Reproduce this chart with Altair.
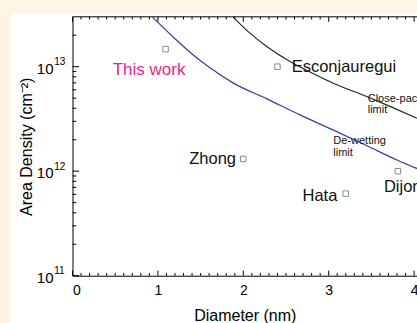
import altair as alt
import pandas as pd

# ---------------- data ----------------
sample_names = ["This work", "Esconjauregui", "Zhong", "Hata", "Dijon"]
sample_diam = [1.09, 2.40, 2.00, 3.20, 3.81]
sample_dens = [1.47e13, 1.0e13, 1.31e12, 6.1e11, 1.0e12]

# label anchor positions (data units)
this_work_pos = (0.471, 8.35e12)
escon_pos = (2.566, 8.9e12)
zhong_pos = (1.915, 1.16e12)
hata_pos = (3.101, 5.16e11)
dijon_pos = (3.647, 6.3e11)
closepack_label_pos = (3.457, 4.6e12)
dewet_label_pos = (3.054, 1.84e12)

# De-wetting limit curve (blue)
dewet_d = [0.934, 1.177, 1.411, 1.610, 1.879, 2.277, 2.664, 3.050, 3.448, 3.800, 4.034]
dewet_n = [3.0e13, 1.93e13, 1.30e13, 9.75e12, 7.0e12, 4.92e12, 3.46e12, 2.48e12, 1.75e12, 1.28e12, 1.06e12]

# Close-packed limit curve (black)
close_d = [1.879, 2.078, 2.274, 2.547, 2.782, 3.054, 3.445, 3.718, 4.034]
close_n = [3.0e13, 2.09e13, 1.56e13, 1.12e13, 8.9e12, 6.95e12, 5.18e12, 4.17e12, 3.21e12]

# axis ticks and tick labels
x_major = [0, 1, 2, 3, 4]
x_minor = [round(i / 10, 1) for i in range(1, 41) if i % 10 != 0]
y_major = [1e11, 1e12, 1e13]
y_label_base = ["10", "10", "10"]
y_label_exp = ["11", "12", "13"]
y_minor = [m * 10 ** e for e in (11, 12) for m in range(2, 10)] + [2e13]

# ---------------- layout ----------------
W, H = 344.5, 258.9
FONT = "Liberation Sans"

xs = alt.Scale(domain=[0, 4.034], nice=False, zero=False)
ys = alt.Scale(type="log", domain=[1e11, 3e13], nice=False)

common_axis = dict(ticks=False, grid=False, zindex=2, domainColor="black", domainWidth=1,
                   labelFont=FONT, labelFontSize=14, labelColor="black",
                   titleFont=FONT, titleFontSize=16, titleFontWeight="normal",
                   titleColor="black")
x_axis = alt.Axis(values=x_major, format="d", title="Diameter (nm)", labelPadding=8,
                  titlePadding=10, **common_axis)
y_axis = alt.Axis(values=y_major, title="Area Density (cm⁻²)", labels=False,
                  titlePadding=38, **common_axis)

one = pd.DataFrame({"a": [0]})
panel = alt.Chart(one).mark_rect(color="white").encode(
    x=alt.value(-61.5), x2=alt.value(W + 20), y=alt.value(-3.8), y2=alt.value(H + 80)
)
top_border = alt.Chart(one).mark_rule(color="black", strokeWidth=1).encode(
    x=alt.value(0), x2=alt.value(W + 5), y=alt.value(0)
)

pts = pd.DataFrame({"d": sample_diam, "n": sample_dens, "name": sample_names})
squares = alt.Chart(pts).mark_point(shape="square", filled=False, size=30,
                                    color="#8c8c8c", strokeWidth=1, opacity=1).encode(
    x=alt.X("d:Q", scale=xs, axis=x_axis),
    y=alt.Y("n:Q", scale=ys, axis=y_axis),
)

dw = pd.DataFrame({"d": dewet_d, "n": dewet_n})
dewet_line = alt.Chart(dw).mark_line(color="#3d3fa2", strokeWidth=1.3, clip=True,
                                     interpolate="monotone").encode(
    x=alt.X("d:Q", scale=xs, axis=x_axis), y=alt.Y("n:Q", scale=ys, axis=y_axis)
)
cp = pd.DataFrame({"d": close_d, "n": close_n})
close_line = alt.Chart(cp).mark_line(color="#222222", strokeWidth=1.1, clip=True,
                                      interpolate="monotone").encode(
    x=alt.X("d:Q", scale=xs, axis=x_axis), y=alt.Y("n:Q", scale=ys, axis=y_axis)
)

# y tick labels with real superscripts
ylab = pd.DataFrame({"v": y_major, "base": y_label_base, "exp": y_label_exp})
ylab_base = alt.Chart(ylab).mark_text(align="right", baseline="alphabetic", fontSize=15,
                                      font=FONT, color="black", dy=7.2).encode(
    y=alt.Y("v:Q", scale=ys, axis=y_axis), x=alt.value(-19.0), text="base:N")
ylab_exp = alt.Chart(ylab).mark_text(align="left", baseline="alphabetic", fontSize=10,
                                     font=FONT, color="black", dy=-1.5).encode(
    y=alt.Y("v:Q", scale=ys, axis=y_axis), x=alt.value(-18.3), text="exp:N")


def label(pos, text, align, size, color="#111111", line_height=None):
    df = pd.DataFrame({"d": [pos[0]], "n": [pos[1]], "t": [text]})
    kw = dict(align=align, baseline="alphabetic", fontSize=size, font=FONT, color=color)
    if line_height:
        kw["lineBreak"] = "\n"
        kw["lineHeight"] = line_height
    return alt.Chart(df).mark_text(**kw).encode(
        x=alt.X("d:Q", scale=xs, axis=x_axis), y=alt.Y("n:Q", scale=ys, axis=y_axis),
        text="t:N"
    )


labels = [
    label(this_work_pos, "This work", "left", 17, color="#e8258a"),
    label(escon_pos, "Esconjauregui", "left", 16.5),
    label(zhong_pos, "Zhong", "right", 16.5),
    label(hata_pos, "Hata", "right", 16.5),
    label(dijon_pos, "Dijon", "left", 16.5),
    label(closepack_label_pos, "Close-packed\nlimit", "left", 11, line_height=11.5),
    label(dewet_label_pos, "De-wetting\nlimit", "left", 11, line_height=12),
]


def xticks(vals, length):
    df = pd.DataFrame({"v": vals})
    bottom = alt.Chart(df).mark_rule(color="black", strokeWidth=1).encode(
        x=alt.X("v:Q", scale=xs, axis=x_axis), y=alt.value(H), y2=alt.value(H - length))
    top = alt.Chart(df).mark_rule(color="black", strokeWidth=1).encode(
        x=alt.X("v:Q", scale=xs, axis=x_axis), y=alt.value(0), y2=alt.value(length))
    return [bottom, top]


def yticks(vals, length):
    df = pd.DataFrame({"v": vals})
    return [alt.Chart(df).mark_rule(color="black", strokeWidth=1).encode(
        y=alt.Y("v:Q", scale=ys, axis=y_axis), x=alt.value(0), x2=alt.value(length))]


tick_layers = xticks(x_major, 5) + xticks(x_minor, 2.7) + yticks(y_major, 6.5) + yticks(y_minor, 3.8)

chart = alt.layer(panel, top_border, *tick_layers, dewet_line, close_line, squares,
                  ylab_base, ylab_exp, *labels).properties(
    width=W, height=H,
    autosize=alt.AutoSizeParams(type="none"),
    padding={"left": 72.5, "top": 16.8, "right": 0, "bottom": 323 - 16.8 - H},
    background="#fef5e7",
).configure_view(stroke=None)

chart.save("out.html", embed_options={"renderer": "svg", "actions": False})
